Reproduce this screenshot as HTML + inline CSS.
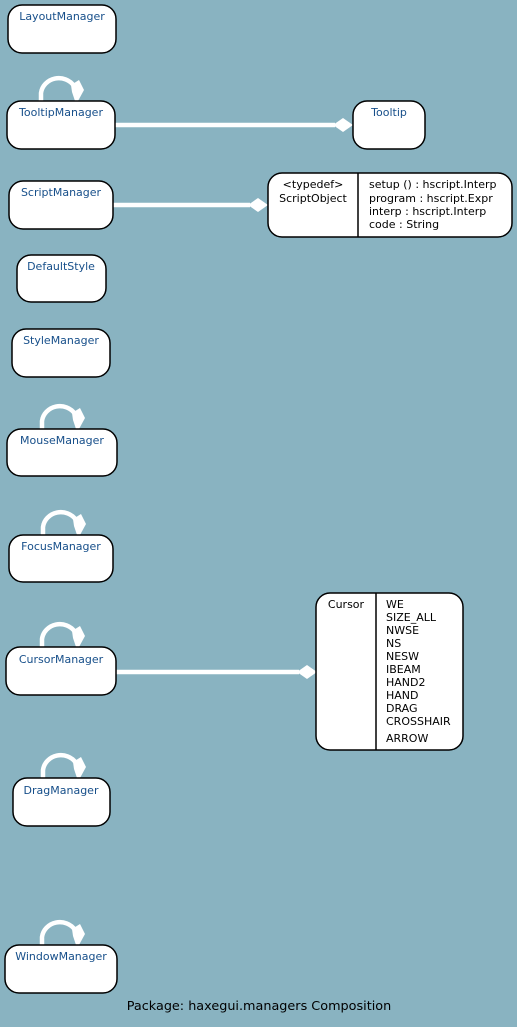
<!DOCTYPE html>
<html><head><meta charset="utf-8"><style>
html,body{margin:0;padding:0;background:#89b3c1;}
svg{display:block;}
text{font-family:"DejaVu Sans","Liberation Sans",sans-serif;font-size:11px;}
.n{fill:#174f8a;text-anchor:middle;}
.b{fill:#fff;stroke:#000;stroke-width:1.5;}
.k{fill:#000;}
</style></head><body>
<svg width="517" height="1027" viewBox="0 0 517 1027">
<defs>
<g id="loop">
<path d="M0,0 L0,-8 A18,17 0 0 1 33,-15" fill="none" stroke="#fff" stroke-width="4.5"/>
<polygon points="30,-16 38,-21 43,-11 37,0 34,0 31,-9" fill="#fff"/>
</g>
</defs>
<line x1="115" y1="125" x2="335" y2="125" stroke="#fff" stroke-width="4.5"/>
<polygon points="333,125 343,118 353,125 343,132" fill="#fff"/>
<line x1="113" y1="205" x2="250" y2="205" stroke="#fff" stroke-width="4.5"/>
<polygon points="248,205 258,198 268,205 258,212" fill="#fff"/>
<line x1="116" y1="672" x2="299" y2="672" stroke="#fff" stroke-width="4.5"/>
<polygon points="297,672 307,665 317,672 307,679" fill="#fff"/>
<use href="#loop" x="41" y="101"/>
<use href="#loop" x="42" y="429"/>
<use href="#loop" x="43" y="535"/>
<use href="#loop" x="42" y="647"/>
<use href="#loop" x="43" y="778"/>
<use href="#loop" x="42" y="945"/>
<rect class="b" x="8" y="5" width="108" height="48" rx="14"/><text class="n" x="62" y="20">LayoutManager</text>
<rect class="b" x="7" y="101" width="108" height="48" rx="14"/><text class="n" x="61" y="116">TooltipManager</text>
<rect class="b" x="353" y="101" width="72" height="48" rx="14"/><text class="n" x="389" y="116">Tooltip</text>
<rect class="b" x="9" y="181" width="104" height="48" rx="14"/><text class="n" x="61" y="196">ScriptManager</text>
<rect class="b" x="268" y="173" width="244" height="64" rx="14"/>
<line x1="358" y1="173" x2="358" y2="237" stroke="#000" stroke-width="1.5"/>
<text class="k" x="313" y="188" text-anchor="middle">&lt;typedef&gt;</text>
<text class="k" x="313" y="202" text-anchor="middle">ScriptObject</text>
<text class="k" x="369" y="188">setup () : hscript.Interp</text>
<text class="k" x="369" y="202">program : hscript.Expr</text>
<text class="k" x="369" y="215">interp : hscript.Interp</text>
<text class="k" x="369" y="228">code : String</text>
<rect class="b" x="17" y="255" width="89" height="47" rx="14"/><text class="n" x="61" y="270">DefaultStyle</text>
<rect class="b" x="12" y="329" width="98" height="48" rx="14"/><text class="n" x="61" y="344">StyleManager</text>
<rect class="b" x="7" y="429" width="110" height="47" rx="14"/><text class="n" x="62" y="444">MouseManager</text>
<rect class="b" x="9" y="535" width="104" height="47" rx="14"/><text class="n" x="61" y="550">FocusManager</text>
<rect class="b" x="6" y="647" width="110" height="48" rx="14"/><text class="n" x="61" y="663">CursorManager</text>
<rect class="b" x="316" y="593" width="147" height="157" rx="14"/>
<line x1="376" y1="593" x2="376" y2="750" stroke="#000" stroke-width="1.5"/>
<text class="k" x="346" y="608" text-anchor="middle">Cursor</text>
<g class="k"><text x="386" y="608">WE</text><text x="386" y="621">SIZE_ALL</text><text x="386" y="634">NWSE</text><text x="386" y="647">NS</text><text x="386" y="660">NESW</text><text x="386" y="673">IBEAM</text><text x="386" y="686">HAND2</text><text x="386" y="699">HAND</text><text x="386" y="712">DRAG</text><text x="386" y="725">CROSSHAIR</text><text x="386" y="742">ARROW</text></g>
<rect class="b" x="13" y="778" width="97" height="48" rx="14"/><text class="n" x="61" y="794">DragManager</text>
<rect class="b" x="5" y="945" width="112" height="48" rx="14"/><text class="n" x="61" y="960">WindowManager</text>
<text class="k" x="259" y="1010" text-anchor="middle" style="font-size:12.8px">Package: haxegui.managers Composition</text>
</svg>
</body></html>
